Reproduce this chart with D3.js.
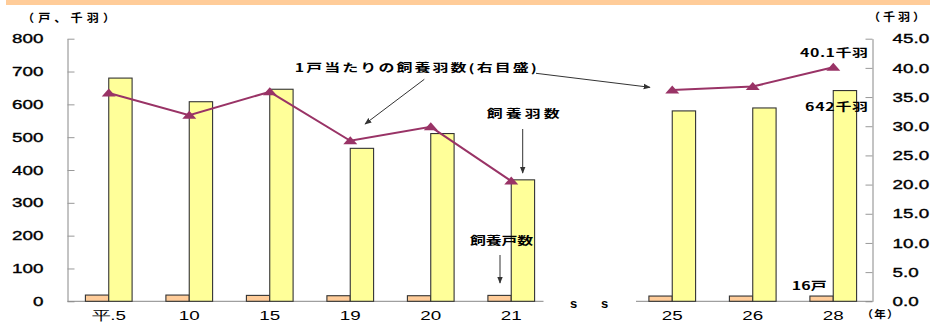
<!DOCTYPE html>
<html>
<head>
<meta charset="utf-8">
<script src="https://cdn.jsdelivr.net/npm/d3@7"></script>
<style>
  body { margin: 0; background: #fff; }
  svg { display: block; }
  text { font-family: "Liberation Sans", Arial, sans-serif; fill: #000; }
  .jp { font-family: "Noto Sans CJK JP", sans-serif; font-weight: 700; }
</style>
</head>
<body>
<div id="chart"></div>
<script>
// 年次
const years = ['平.5', '10', '15', '19', '20', '21', '25', '26', '28'];
// 飼養戸数（戸）
const farms = [19, 19, 18, 17, 17, 18, 16, 16, 16];
// 飼養羽数（千羽）
const birds = [680, 608, 646, 466, 511, 370, 580, 589, 642];
// 1戸当たりの飼養羽数（千羽）
const perFarm = [35.7, 31.9, 35.9, 27.5, 29.9, 20.6, 36.2, 36.8, 40.1];
const leftTicks = [0, 100, 200, 300, 400, 500, 600, 700, 800];
const rightTicks = [0, 5, 10, 15, 20, 25, 30, 35, 40, 45];
const breakAfter = '21';

const width = 933, height = 322;
const SX = 1.45; // the original text is stretched sideways

const svg = d3.select('#chart').append('svg')
  .attr('width', width).attr('height', height);

svg.append('rect')
  .attr('x', 6).attr('y', 0).attr('width', 924).attr('height', 5)
  .attr('fill', '#ffcc99');

const defs = svg.append('defs');
defs.append('marker')
  .attr('id', 'arrow')
  .attr('viewBox', '0 0 10 10')
  .attr('refX', 9).attr('refY', 5)
  .attr('markerWidth', 7).attr('markerHeight', 7)
  .attr('markerUnits', 'userSpaceOnUse')
  .attr('orient', 'auto')
  .append('path')
  .attr('d', 'M0,1L10,5L0,9Z')
  .attr('fill', '#333');

// slots: the first six years, an empty slot for the axis break, then the rest
const cut = years.indexOf(breakAfter) + 1;
const slots = [...years.slice(0, cut), 'gap', ...years.slice(cut)];

const x = d3.scaleBand().domain(slots).range([68.5, 873.5]).padding(0);
const sub = d3.scaleBand().domain(['farms', 'birds'])
  .range([0, x.bandwidth() * 0.58]);
const off = (x.bandwidth() - sub.range()[1]) / 2;

const yL = d3.scaleLinear().domain([0, 800]).range([301.3, 38.7]);
const yR = d3.scaleLinear().domain([0, 45]).range([301.3, 38.7]);

// helper for stretched text
function txt(px, py, s, o = {}) {
  const sx = o.sx || SX;
  const g = svg.append('g').attr('transform', `translate(${px},${py}) scale(${sx},1)`);
  const t = g.append('text')
    .attr('class', o.cls || null)
    .attr('font-size', o.size || 13)
    .attr('dominant-baseline', 'central')
    .attr('text-anchor', o.anchor || 'middle')
    .text(s);
  if (o.w) t.attr('textLength', o.w / sx).attr('lengthAdjust', 'spacing');
  return t;
}

// axes
const axL = svg.append('g')
  .attr('transform', 'translate(67.5,0)')
  .call(d3.axisLeft(yL).tickValues(leftTicks).tickSizeInner(-7).tickSizeOuter(0).tickPadding(24));
const axR = svg.append('g')
  .attr('transform', 'translate(872.5,0)')
  .call(d3.axisRight(yR).tickValues(rightTicks).tickSizeInner(-7).tickSizeOuter(0)
    .tickPadding(20).tickFormat(d3.format('.1f')));

[axL, axR].forEach(ax => {
  ax.select('.domain').attr('stroke', '#888');
  ax.selectAll('.tick line').attr('stroke', '#999');
  ax.selectAll('.tick text')
    .attr('font-size', 13)
    .attr('font-family', '"Liberation Sans", Arial, sans-serif')
    .attr('stroke', '#000').attr('stroke-width', 0.35)
    .attr('transform', `scale(${SX},1)`)
    .attr('x', function () { return +d3.select(this).attr('x') / SX; });
});

// baseline, broken between 21 and 25
const gx = x('gap');
svg.append('g').selectAll('line')
  .data([[67.5, gx - 8], [gx + x.step() + 4, 872.5]])
  .join('line')
  .attr('x1', d => d[0]).attr('x2', d => d[1])
  .attr('y1', yL(0)).attr('y2', yL(0))
  .attr('stroke', '#888');

svg.append('g').selectAll('text')
  .data([gx + 22, gx + 53])
  .join('text')
  .attr('x', d => d).attr('y', yL(0) + 2)
  .attr('font-size', 13).attr('font-weight', 700)
  .attr('text-anchor', 'middle').attr('dominant-baseline', 'central')
  .text('s');

// x labels
years.forEach(yr => txt(x(yr) + x.bandwidth() / 2, 315, yr, { size: 13 }));

// bars
const rows = years.map((yr, i) => ({ yr, farms: farms[i], birds: birds[i], per: perFarm[i] }));
const grp = svg.append('g').selectAll('g')
  .data(rows)
  .join('g')
  .attr('transform', d => `translate(${x(d.yr) + off},0)`);

grp.append('rect')
  .attr('x', sub('farms')).attr('width', sub.bandwidth())
  .attr('y', d => yL(d.farms)).attr('height', d => yL(0) - yL(d.farms))
  .attr('fill', '#ffcc99').attr('stroke', '#333').attr('stroke-width', 1.1);

grp.append('rect')
  .attr('x', sub('birds')).attr('width', sub.bandwidth())
  .attr('y', d => yL(d.birds)).attr('height', d => yL(0) - yL(d.birds))
  .attr('fill', '#ffff99').attr('stroke', '#333').attr('stroke-width', 1.1);

// per-farm line, drawn in two pieces around the break
const cx = d => x(d.yr) + x.bandwidth() / 2;
const line = d3.line().x(cx).y(d => yR(d.per));
[rows.slice(0, cut), rows.slice(cut)].forEach(part => {
  svg.append('path')
    .attr('d', line(part))
    .attr('fill', 'none')
    .attr('stroke', '#993366').attr('stroke-width', 2);
});
svg.append('g').selectAll('path')
  .data(rows)
  .join('path')
  .attr('transform', d => `translate(${cx(d)},${yR(d.per)})`)
  .attr('d', 'M0,-4.5L7,3.5L-7,3.5Z')
  .attr('fill', '#993366');

// units
txt(68.5, 17, '（戸、千羽）', { cls: 'jp', size: 11, sx: 1.1, w: 93 });
txt(896.5, 16, '（千羽）', { cls: 'jp', size: 11, sx: 1.1, w: 57 });
txt(880, 313.5, '（年）', { cls: 'jp', size: 10.5, sx: 1.1, w: 37 });

// annotations
const n = rows.length - 1;
txt(415.8, 67, '1戸当たりの飼養羽数(右目盛)', { cls: 'jp', size: 11, w: 242 });
txt(523.3, 113.5, '飼養羽数', { cls: 'jp', size: 11, w: 73 });
txt(501.6, 240, '飼養戸数', { cls: 'jp', size: 11, w: 63 });
txt(868, 52, `${perFarm[n]}千羽`, { cls: 'jp', size: 11, w: 68, anchor: 'end' });
txt(868, 106, `${birds[n]}千羽`, { cls: 'jp', size: 11, w: 63, anchor: 'end' });
txt(826.7, 285, `${farms[n]}戸`, { cls: 'jp', size: 11, w: 35, anchor: 'end' });

svg.append('g').selectAll('line')
  .data([
    [424.3, 79.3, 365, 124],
    [536, 73.3, 650, 87.3],
    [522.7, 129, 522.7, 173],
    [500, 255, 500, 283]
  ])
  .join('line')
  .attr('x1', d => d[0]).attr('y1', d => d[1])
  .attr('x2', d => d[2]).attr('y2', d => d[3])
  .attr('stroke', '#333').attr('stroke-width', 1)
  .attr('marker-end', 'url(#arrow)');
</script>
</body>
</html>
